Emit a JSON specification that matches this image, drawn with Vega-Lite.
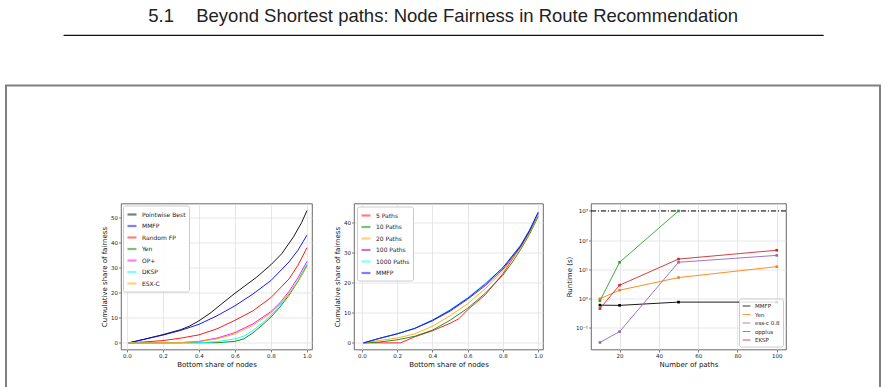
{
  "$schema": "https://vega.github.io/schema/vega-lite/v6.json",
  "padding": {"left": 5, "top": 5, "right": 0, "bottom": 0},
  "autosize": {"type": "pad"},
  "background": "white",
  "config": {
    "font": "DejaVu Sans",
    "view": {"stroke": null},
    "axis": {
      "domain": false,
      "tickColor": "#333",
      "tickSize": 2.5,
      "tickWidth": 0.6,
      "labelFontSize": 5.5,
      "labelColor": "#222",
      "labelPadding": 1,
      "titleFontSize": 7,
      "titleFontWeight": "normal",
      "titleColor": "#111",
      "gridColor": "#dcdcdc",
      "gridWidth": 0.7
    },
    "axisX": {"titlePadding": 2},
    "axisY": {"titlePadding": 3},
    "legend": {
      "title": null,
      "padding": 3,
      "strokeColor": "#cccccc",
      "fillColor": "rgba(255,255,255,0.85)",
      "cornerRadius": 2,
      "labelFontSize": 6,
      "labelColor": "#222",
      "labelOffset": 4,
      "rowPadding": 0.5,
      "symbolType": "stroke",
      "symbolSize": 80,
      "symbolStrokeWidth": 2.2
    }
  },
  "datasets": {
    "fairness": [
      {"method": "Pointwise Best", "share": 0.01, "value": 0},
      {"method": "Pointwise Best", "share": 0.1, "value": 1.5},
      {"method": "Pointwise Best", "share": 0.2, "value": 3.3},
      {"method": "Pointwise Best", "share": 0.3, "value": 5.3},
      {"method": "Pointwise Best", "share": 0.345, "value": 6.6},
      {"method": "Pointwise Best", "share": 0.4, "value": 8.8},
      {"method": "Pointwise Best", "share": 0.467, "value": 12.1},
      {"method": "Pointwise Best", "share": 0.53, "value": 15.8},
      {"method": "Pointwise Best", "share": 0.6, "value": 19.8},
      {"method": "Pointwise Best", "share": 0.72, "value": 26.2},
      {"method": "Pointwise Best", "share": 0.8, "value": 31.2},
      {"method": "Pointwise Best", "share": 0.86, "value": 35.6},
      {"method": "Pointwise Best", "share": 0.925, "value": 42.3},
      {"method": "Pointwise Best", "share": 0.97, "value": 48},
      {"method": "Pointwise Best", "share": 1.0, "value": 52.8},
      {"method": "MMFP", "share": 0.01, "value": 0},
      {"method": "MMFP", "share": 0.1, "value": 1.5},
      {"method": "MMFP", "share": 0.2, "value": 3.1},
      {"method": "MMFP", "share": 0.3, "value": 5},
      {"method": "MMFP", "share": 0.4, "value": 7.4},
      {"method": "MMFP", "share": 0.5, "value": 10.8},
      {"method": "MMFP", "share": 0.6, "value": 14.8},
      {"method": "MMFP", "share": 0.7, "value": 19.5},
      {"method": "MMFP", "share": 0.8, "value": 24.9},
      {"method": "MMFP", "share": 0.9, "value": 32.3},
      {"method": "MMFP", "share": 0.95, "value": 37},
      {"method": "MMFP", "share": 1.0, "value": 43},
      {"method": "Random FP", "share": 0.01, "value": 0},
      {"method": "Random FP", "share": 0.1, "value": 0.4},
      {"method": "Random FP", "share": 0.2, "value": 0.9},
      {"method": "Random FP", "share": 0.3, "value": 1.9},
      {"method": "Random FP", "share": 0.4, "value": 3.2},
      {"method": "Random FP", "share": 0.5, "value": 5.6},
      {"method": "Random FP", "share": 0.6, "value": 9},
      {"method": "Random FP", "share": 0.7, "value": 12.8},
      {"method": "Random FP", "share": 0.8, "value": 18.1},
      {"method": "Random FP", "share": 0.9, "value": 25.5},
      {"method": "Random FP", "share": 0.95, "value": 31},
      {"method": "Random FP", "share": 1.0, "value": 38},
      {"method": "Yen", "share": 0.01, "value": 0},
      {"method": "Yen", "share": 0.5, "value": 0.05},
      {"method": "Yen", "share": 0.6, "value": 0.6},
      {"method": "Yen", "share": 0.65, "value": 1.6},
      {"method": "Yen", "share": 0.7, "value": 4},
      {"method": "Yen", "share": 0.75, "value": 7},
      {"method": "Yen", "share": 0.8, "value": 10.3},
      {"method": "Yen", "share": 0.85, "value": 14.3},
      {"method": "Yen", "share": 0.9, "value": 19},
      {"method": "Yen", "share": 0.95, "value": 24.5},
      {"method": "Yen", "share": 1.0, "value": 31},
      {"method": "OP+", "share": 0.01, "value": 0},
      {"method": "OP+", "share": 0.3, "value": 0.1},
      {"method": "OP+", "share": 0.4, "value": 0.6},
      {"method": "OP+", "share": 0.5, "value": 1.9},
      {"method": "OP+", "share": 0.6, "value": 4.1},
      {"method": "OP+", "share": 0.7, "value": 7.6},
      {"method": "OP+", "share": 0.8, "value": 12.5},
      {"method": "OP+", "share": 0.85, "value": 16},
      {"method": "OP+", "share": 0.9, "value": 20.5},
      {"method": "OP+", "share": 0.95, "value": 26},
      {"method": "OP+", "share": 1.0, "value": 32.5},
      {"method": "DKSP", "share": 0.01, "value": 0},
      {"method": "DKSP", "share": 0.4, "value": 0.05},
      {"method": "DKSP", "share": 0.5, "value": 0.5},
      {"method": "DKSP", "share": 0.6, "value": 1.6},
      {"method": "DKSP", "share": 0.65, "value": 2.7},
      {"method": "DKSP", "share": 0.7, "value": 5},
      {"method": "DKSP", "share": 0.75, "value": 7.8},
      {"method": "DKSP", "share": 0.8, "value": 11},
      {"method": "DKSP", "share": 0.85, "value": 15},
      {"method": "DKSP", "share": 0.9, "value": 19.5},
      {"method": "DKSP", "share": 0.95, "value": 25},
      {"method": "DKSP", "share": 1.0, "value": 31.5},
      {"method": "ESX-C", "share": 0.01, "value": 0},
      {"method": "ESX-C", "share": 0.3, "value": 0.1},
      {"method": "ESX-C", "share": 0.4, "value": 0.5},
      {"method": "ESX-C", "share": 0.5, "value": 1.6},
      {"method": "ESX-C", "share": 0.6, "value": 3.6},
      {"method": "ESX-C", "share": 0.7, "value": 7},
      {"method": "ESX-C", "share": 0.8, "value": 12},
      {"method": "ESX-C", "share": 0.85, "value": 15.5},
      {"method": "ESX-C", "share": 0.9, "value": 19.5},
      {"method": "ESX-C", "share": 0.95, "value": 24.5},
      {"method": "ESX-C", "share": 1.0, "value": 30.5}
    ],
    "paths": [
      {"k": "5 Paths", "share": 0.01, "value": 0},
      {"k": "5 Paths", "share": 0.22, "value": 0},
      {"k": "5 Paths", "share": 0.3, "value": 2},
      {"k": "5 Paths", "share": 0.4, "value": 4},
      {"k": "5 Paths", "share": 0.5, "value": 6.5},
      {"k": "5 Paths", "share": 0.55, "value": 8},
      {"k": "5 Paths", "share": 0.6, "value": 11},
      {"k": "5 Paths", "share": 0.7, "value": 16},
      {"k": "5 Paths", "share": 0.8, "value": 23},
      {"k": "5 Paths", "share": 0.85, "value": 27.5},
      {"k": "5 Paths", "share": 0.9, "value": 32},
      {"k": "5 Paths", "share": 0.95, "value": 37},
      {"k": "5 Paths", "share": 1.0, "value": 43},
      {"k": "10 Paths", "share": 0.01, "value": 0},
      {"k": "10 Paths", "share": 0.1, "value": 0.3},
      {"k": "10 Paths", "share": 0.2, "value": 1},
      {"k": "10 Paths", "share": 0.3, "value": 2.2},
      {"k": "10 Paths", "share": 0.4, "value": 4.2},
      {"k": "10 Paths", "share": 0.5, "value": 7.5},
      {"k": "10 Paths", "share": 0.6, "value": 11.5},
      {"k": "10 Paths", "share": 0.7, "value": 16.5},
      {"k": "10 Paths", "share": 0.8, "value": 22.5},
      {"k": "10 Paths", "share": 0.85, "value": 26.5},
      {"k": "10 Paths", "share": 0.9, "value": 31},
      {"k": "10 Paths", "share": 0.95, "value": 36},
      {"k": "10 Paths", "share": 1.0, "value": 42},
      {"k": "20 Paths", "share": 0.01, "value": 0},
      {"k": "20 Paths", "share": 0.1, "value": 0.8},
      {"k": "20 Paths", "share": 0.2, "value": 1.6},
      {"k": "20 Paths", "share": 0.3, "value": 3},
      {"k": "20 Paths", "share": 0.4, "value": 5.5},
      {"k": "20 Paths", "share": 0.5, "value": 9},
      {"k": "20 Paths", "share": 0.6, "value": 13},
      {"k": "20 Paths", "share": 0.7, "value": 18},
      {"k": "20 Paths", "share": 0.8, "value": 24},
      {"k": "20 Paths", "share": 0.9, "value": 31.5},
      {"k": "20 Paths", "share": 0.95, "value": 36.5},
      {"k": "20 Paths", "share": 1.0, "value": 42.5},
      {"k": "100 Paths", "share": 0.01, "value": 0},
      {"k": "100 Paths", "share": 0.1, "value": 1.5},
      {"k": "100 Paths", "share": 0.2, "value": 3},
      {"k": "100 Paths", "share": 0.3, "value": 4.8},
      {"k": "100 Paths", "share": 0.4, "value": 7.3},
      {"k": "100 Paths", "share": 0.5, "value": 10.5},
      {"k": "100 Paths", "share": 0.6, "value": 14.5},
      {"k": "100 Paths", "share": 0.7, "value": 19},
      {"k": "100 Paths", "share": 0.8, "value": 24.5},
      {"k": "100 Paths", "share": 0.9, "value": 32},
      {"k": "100 Paths", "share": 0.95, "value": 37},
      {"k": "100 Paths", "share": 1.0, "value": 43},
      {"k": "1000 Paths", "share": 0.01, "value": 0},
      {"k": "1000 Paths", "share": 0.1, "value": 1.5},
      {"k": "1000 Paths", "share": 0.2, "value": 3},
      {"k": "1000 Paths", "share": 0.3, "value": 4.9},
      {"k": "1000 Paths", "share": 0.4, "value": 7.6},
      {"k": "1000 Paths", "share": 0.5, "value": 11},
      {"k": "1000 Paths", "share": 0.6, "value": 15},
      {"k": "1000 Paths", "share": 0.7, "value": 19.8},
      {"k": "1000 Paths", "share": 0.8, "value": 25},
      {"k": "1000 Paths", "share": 0.9, "value": 32.5},
      {"k": "1000 Paths", "share": 0.95, "value": 37.5},
      {"k": "1000 Paths", "share": 1.0, "value": 43},
      {"k": "MMFP", "share": 0.01, "value": 0},
      {"k": "MMFP", "share": 0.1, "value": 1.5},
      {"k": "MMFP", "share": 0.2, "value": 3},
      {"k": "MMFP", "share": 0.3, "value": 4.8},
      {"k": "MMFP", "share": 0.4, "value": 7.5},
      {"k": "MMFP", "share": 0.5, "value": 10.8},
      {"k": "MMFP", "share": 0.6, "value": 14.8},
      {"k": "MMFP", "share": 0.7, "value": 19.5},
      {"k": "MMFP", "share": 0.8, "value": 25},
      {"k": "MMFP", "share": 0.9, "value": 32.3},
      {"k": "MMFP", "share": 0.95, "value": 37.3},
      {"k": "MMFP", "share": 1.0, "value": 43.5}
    ],
    "runtime": [
      {"algo": "MMFP", "n": 10, "sec": 0.59},
      {"algo": "MMFP", "n": 20, "sec": 0.58},
      {"algo": "MMFP", "n": 50, "sec": 0.75},
      {"algo": "MMFP", "n": 100, "sec": 0.75},
      {"algo": "Yen", "n": 10, "sec": 0.98},
      {"algo": "Yen", "n": 20, "sec": 1.92},
      {"algo": "Yen", "n": 50, "sec": 5.2},
      {"algo": "Yen", "n": 100, "sec": 12.3},
      {"algo": "ess-c 0.8", "n": 10, "sec": 0.031},
      {"algo": "ess-c 0.8", "n": 20, "sec": 0.073},
      {"algo": "ess-c 0.8", "n": 50, "sec": 17.4},
      {"algo": "ess-c 0.8", "n": 100, "sec": 30},
      {"algo": "opplus", "n": 10, "sec": 0.83},
      {"algo": "opplus", "n": 20, "sec": 17.4},
      {"algo": "opplus", "n": 50, "sec": 1000},
      {"algo": "EKSP", "n": 10, "sec": 0.45},
      {"algo": "EKSP", "n": 20, "sec": 2.85},
      {"algo": "EKSP", "n": 50, "sec": 22.4},
      {"algo": "EKSP", "n": 100, "sec": 45}
    ],
    "limit": [{"timeout": 1000}]
  },
  "spacing": 48.5,
  "center": true,
  "vconcat": [
    {
      "width": 759,
      "height": 0.01,
      "data": {"values": []},
      "mark": "rule",
      "encoding": {},
      "view": {"stroke": "#111111", "strokeWidth": 1.1, "fill": null},
      "title": {
        "text": "5.1\u2003\u2009Beyond Shortest paths: Node Fairness in Route Recommendation",
        "font": "Liberation Sans",
        "fontSize": 18.5,
        "fontWeight": "normal",
        "color": "#222222",
        "anchor": "middle",
        "baseline": "alphabetic",
        "offset": -5
      }
    },
    {
      "columns": 1,
      "align": "none",
      "center": false,
      "spacing": {"row": -214, "column": 0},
      "concat": [
        {
          "width": 874,
          "height": 330,
          "data": {"values": []},
          "mark": "rule",
          "encoding": {},
          "view": {"stroke": "#808080", "strokeWidth": 2, "fill": null}
        },
        {
          "spacing": 20,
          "resolve": {"scale": {"color": "independent"}, "legend": {"color": "independent"}},
          "hconcat": [
            {
              "width": 74,
              "height": 146,
              "data": {"values": []},
              "mark": "rule",
              "encoding": {}
            },
            {
              "width": 191,
              "height": 146,
              "data": {"name": "fairness"},
              "view": {"stroke": "#444444", "strokeWidth": 0.8},
              "mark": {"type": "line", "strokeWidth": 1, "opacity": 0.9},
              "encoding": {
                "x": {"field": "share", "type": "quantitative",
                  "scale": {"domain": [-0.033, 1.028], "nice": false, "zero": false},
                  "axis": {"title": "Bottom share of nodes", "values": [0, 0.2, 0.4, 0.6, 0.8, 1.0], "format": ".1f"}},
                "y": {"field": "value", "type": "quantitative",
                  "scale": {"domain": [-2.65, 55.65], "nice": false, "zero": false},
                  "axis": {"title": "Cumulative share of fairness", "values": [0, 10, 20, 30, 40, 50]}},
                "color": {"field": "method", "type": "nominal",
                  "scale": {"domain": ["Pointwise Best", "MMFP", "Random FP", "Yen", "OP+", "DKSP", "ESX-C"],
                    "range": ["#000000", "#0000ff", "#ff0000", "#008000", "#ff00ff", "#00ffff", "#ffa500"]},
                  "legend": {"orient": "top-left", "offset": 2, "symbolOpacity": 0.5}}
              }
            },
            {
              "width": 189,
              "height": 146,
              "data": {"name": "paths"},
              "view": {"stroke": "#444444", "strokeWidth": 0.8},
              "mark": {"type": "line", "strokeWidth": 1, "opacity": 0.85},
              "encoding": {
                "x": {"field": "share", "type": "quantitative",
                  "scale": {"domain": [-0.044, 1.027], "nice": false, "zero": false},
                  "axis": {"title": "Bottom share of nodes", "values": [0, 0.2, 0.4, 0.6, 0.8, 1.0], "format": ".1f"}},
                "y": {"field": "value", "type": "quantitative",
                  "scale": {"domain": [-2.2, 46.3], "nice": false, "zero": false},
                  "axis": {"title": "Cumulative share of fairness", "values": [0, 10, 20, 30, 40]}},
                "color": {"field": "k", "type": "nominal",
                  "scale": {"domain": ["5 Paths", "10 Paths", "20 Paths", "100 Paths", "1000 Paths", "MMFP"],
                    "range": ["#ff0000", "#008000", "#ffa500", "#800080", "#00ffff", "#0000ff"]},
                  "legend": {"orient": "top-left", "offset": 3, "symbolOpacity": 0.5}}
              }
            },
            {
              "width": 195,
              "height": 146,
              "view": {"stroke": "#444444", "strokeWidth": 0.8},
              "layer": [
                {
                  "data": {"name": "limit"},
                  "mark": {"type": "rule", "color": "#000000", "strokeWidth": 1, "strokeDash": [5, 2, 1, 2]},
                  "encoding": {"y": {"field": "timeout", "type": "quantitative"}}
                },
                {
                  "data": {"name": "runtime"},
                  "mark": {"type": "line", "strokeWidth": 0.9, "point": {"shape": "square", "size": 7, "filled": true}},
                  "encoding": {
                    "x": {"field": "n", "type": "quantitative",
                      "scale": {"domain": [5.45, 104.7], "nice": false, "zero": false},
                      "axis": {"title": "Number of paths", "values": [20, 40, 60, 80, 100]}},
                    "y": {"field": "sec", "type": "quantitative",
                      "scale": {"type": "log", "domain": [0.0178, 1800], "nice": false},
                      "axis": {"title": "Runtime (s)", "values": [0.1, 1, 10, 100, 1000],
                        "labelExpr": "datum.value >= 999 ? '10³' : datum.value >= 99 ? '10²' : datum.value >= 9 ? '10¹' : datum.value >= 0.9 ? '10⁰' : '10⁻¹'"}},
                    "color": {"field": "algo", "type": "nominal",
                      "scale": {"domain": ["MMFP", "Yen", "ess-c 0.8", "opplus", "EKSP"],
                        "range": ["#000000", "#ff7f0e", "#9467bd", "#2ca02c", "#d62728"]},
                      "legend": {"orient": "bottom-right", "offset": 3, "symbolStrokeWidth": 1, "symbolOpacity": 0.8, "symbolSize": 60, "labelFontSize": 5.5}}
                  }
                }
              ]
            }
          ]
        }
      ]
    }
  ]
}
